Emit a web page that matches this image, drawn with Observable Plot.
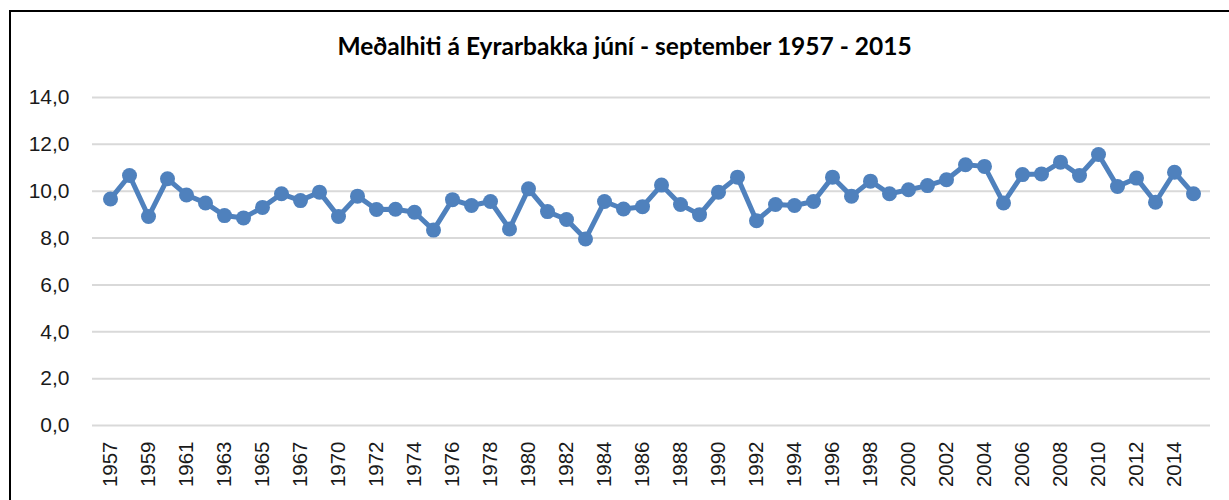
<!DOCTYPE html>
<html>
<head>
<meta charset="utf-8">
<script src="https://cdn.jsdelivr.net/npm/d3@7"></script>
<script src="https://cdn.jsdelivr.net/npm/@observablehq/plot@0.6"></script>
<style>
  html, body { margin: 0; padding: 0; background: #fff; }
  #wrap { position: relative; width: 1229px; height: 500px; overflow: hidden; background: #fff; }
  #frame { position: absolute; left: 9px; top: 10px; width: 1300px; height: 600px;
           border-left: 2px solid #000; border-top: 2px solid #000; box-sizing: border-box; }
  #title { position: absolute; left: 0; width: 1249px; top: 31px; text-align: center;
           font-family: Lato, "Open Sans", sans-serif; font-weight: bold; font-size: 24.5px; color: #000; }
  #chart { position: absolute; left: 0; top: 0; }
</style>
</head>
<body>
<div id="wrap">
  <div id="frame"></div>
  <div id="title">Meðalhiti á Eyrarbakka júní - september 1957 - 2015</div>
  <div id="chart"></div>
</div>
<script>
const years = ["1957","1958","1959","1960","1961","1962","1963","1964","1965","1966","1967","1968",
  "1970","1971","1972","1973","1974","1975","1976","1977","1978","1979","1980","1981","1982","1983",
  "1984","1985","1986","1987","1988","1989","1990","1991","1992","1993","1994","1995","1996","1997",
  "1998","1999","2000","2001","2002","2003","2004","2005","2006","2007","2008","2009","2010","2011",
  "2012","2013","2014","2015"];
const temps = [9.67,10.67,8.92,10.53,9.84,9.50,8.96,8.86,9.31,9.89,9.60,9.96,
  8.92,9.79,9.22,9.23,9.10,8.34,9.64,9.39,9.56,8.39,10.10,9.13,8.79,7.96,
  9.56,9.24,9.34,10.26,9.43,9.00,9.96,10.60,8.74,9.43,9.39,9.56,10.60,9.79,
  10.43,9.89,10.06,10.24,10.49,11.13,11.06,9.50,10.71,10.74,11.24,10.67,11.57,10.20,
  10.56,9.53,10.81,9.89];
const yTicks = [0, 2, 4, 6, 8, 10, 12, 14];
const xTicks = years.filter((d, i) => i % 2 === 0);

const data = years.map((y, i) => ({year: y, temp: temps[i]}));
const fmt = d => d.toFixed(1).replace(".", ",");
const color = "#4f81bd";

const chart = Plot.plot({
  width: 1229,
  height: 500,
  marginLeft: 92,
  marginRight: 19,
  marginTop: 97,
  marginBottom: 75,
  style: {fontFamily: "'Liberation Sans', Arial, sans-serif", fontSize: "20px", color: "#1a1a1a", background: "transparent"},
  x: {type: "point", domain: years, padding: 0.5, label: null},
  y: {domain: [0, 14], label: null},
  marks: [
    Plot.gridY(yTicks, {stroke: "#d9d9d9", strokeOpacity: 1, strokeWidth: 2}),
    Plot.axisY({ticks: yTicks, tickSize: 0, tickPadding: 23, tickFormat: fmt, fontSize: 21}),
    Plot.axisX({ticks: xTicks, tickSize: 0, tickPadding: 16, tickRotate: -90, fontSize: 20.5}),
    Plot.line(data, {x: "year", y: "temp", stroke: color, strokeWidth: 5, strokeLinejoin: "round"}),
    Plot.dot(data, {x: "year", y: "temp", fill: color, r: 7.5})
  ]
});
document.getElementById("chart").appendChild(chart);
</script>
</body>
</html>
